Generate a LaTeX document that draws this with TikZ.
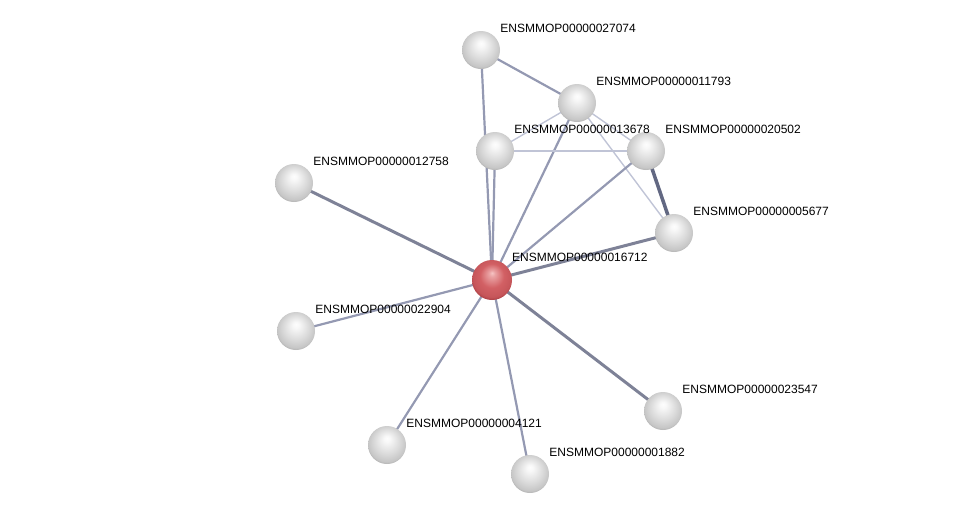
\documentclass[tikz,border=0pt]{standalone}
\usepackage{fontspec}
\setmainfont{Liberation Sans}
\usetikzlibrary{backgrounds}
\definecolor{edgecol}{RGB}{148,153,178}
\definecolor{edgedark}{RGB}{98,104,130}
\definecolor{edgefaint}{RGB}{192,196,214}
\definecolor{ballhi}{RGB}{253,253,253}
\definecolor{ballmid}{RGB}{220,220,220}
\definecolor{ballrim}{RGB}{145,145,145}
\definecolor{redhi}{RGB}{246,196,196}
\definecolor{redmid}{RGB}{210,96,100}
\definecolor{redrim}{RGB}{150,44,50}
\pgfdeclareradialshading{protball}{\pgfpoint{0bp}{9bp}}{color(0bp)=(ballhi); color(4bp)=(ballhi!85!ballmid); color(16bp)=(ballmid); color(25bp)=(ballmid!70!ballrim); color(31bp)=(ballrim); color(36bp)=(ballrim!80!black)}
\pgfdeclareradialshading{queryball}{\pgfpoint{0bp}{9bp}}{color(0bp)=(redhi); color(4bp)=(redhi!65!redmid); color(15bp)=(redmid); color(24bp)=(redmid!80!redrim); color(30bp)=(redrim); color(36bp)=(redrim!80!black)}
\tikzset{
    prot/.style={circle, inner sep=0pt, minimum size=38pt, shading=protball},
    query/.style={circle, inner sep=0pt, minimum size=40pt, shading=queryball},
    lbl/.style={font=\fontsize{12}{14}\selectfont, inner sep=0pt, label distance=8pt, yshift=-2pt},
    lnk/.style={draw=edgecol, line width=2.2pt},
    lnkheavy/.style={draw=edgecol!85!black, line width=3pt},
    lnkdark/.style={draw=edgedark, line width=3.5pt},
    lnkfaint/.style={draw=edgefaint, line width=1.4pt}
}
\begin{document}
\begin{tikzpicture}[x=1pt, y=-1pt]
    \useasboundingbox (0,0) rectangle (975,520);
    \node[prot, label={[lbl]45:ENSMMOP00000027074}] (p27074) at (481,50) {};
    \node[prot, label={[lbl]45:ENSMMOP00000020502}] (p20502) at (646,151) {};
    \node[prot, label={[lbl]45:ENSMMOP00000011793}] (p11793) at (577,103) {};
    \node[prot, label={[lbl]45:ENSMMOP00000013678}] (p13678) at (495,151) {};
    \node[prot, label={[lbl]45:ENSMMOP00000012758}] (p12758) at (294,183) {};
    \node[prot, label={[lbl]45:ENSMMOP00000005677}] (p05677) at (674,233) {};
    \node[query, label={[lbl]45:ENSMMOP00000016712}] (q16712) at (492,280) {};
    \node[prot, label={[lbl]45:ENSMMOP00000022904}] (p22904) at (296,331) {};
    \node[prot, label={[lbl]45:ENSMMOP00000023547}] (p23547) at (663,411) {};
    \node[prot, label={[lbl]45:ENSMMOP00000004121}] (p04121) at (387,445) {};
    \node[prot, label={[lbl]45:ENSMMOP00000001882}] (p01882) at (530,474) {};
    \begin{scope}[on background layer]
        \draw[lnk] (p27074.center) -- (p11793.center);
        \draw[lnk] (p27074.center) -- (q16712.center);
        \draw[lnk] (p13678.center) -- (q16712.center);
        \draw[lnkfaint] (p11793.center) -- (p13678.center);
        \draw[lnkfaint] (p11793.center) -- (p20502.center);
        \draw[lnkfaint] (p11793.center) -- (p05677.center);
        \draw[lnk] (p11793.center) -- (q16712.center);
        \draw[lnkfaint] (p13678.center) -- (p20502.center);
        \draw[lnk] (p20502.center) -- (q16712.center);
        \draw[lnkdark] (p20502.center) -- (p05677.center);
        \draw[lnkheavy] (p05677.center) -- (q16712.center);
        \draw[lnkheavy] (p12758.center) -- (q16712.center);
        \draw[lnk] (p22904.center) -- (q16712.center);
        \draw[lnkheavy] (p23547.center) -- (q16712.center);
        \draw[lnk] (p04121.center) -- (q16712.center);
        \draw[lnk] (p01882.center) -- (q16712.center);
    \end{scope}
\end{tikzpicture}
\end{document}
